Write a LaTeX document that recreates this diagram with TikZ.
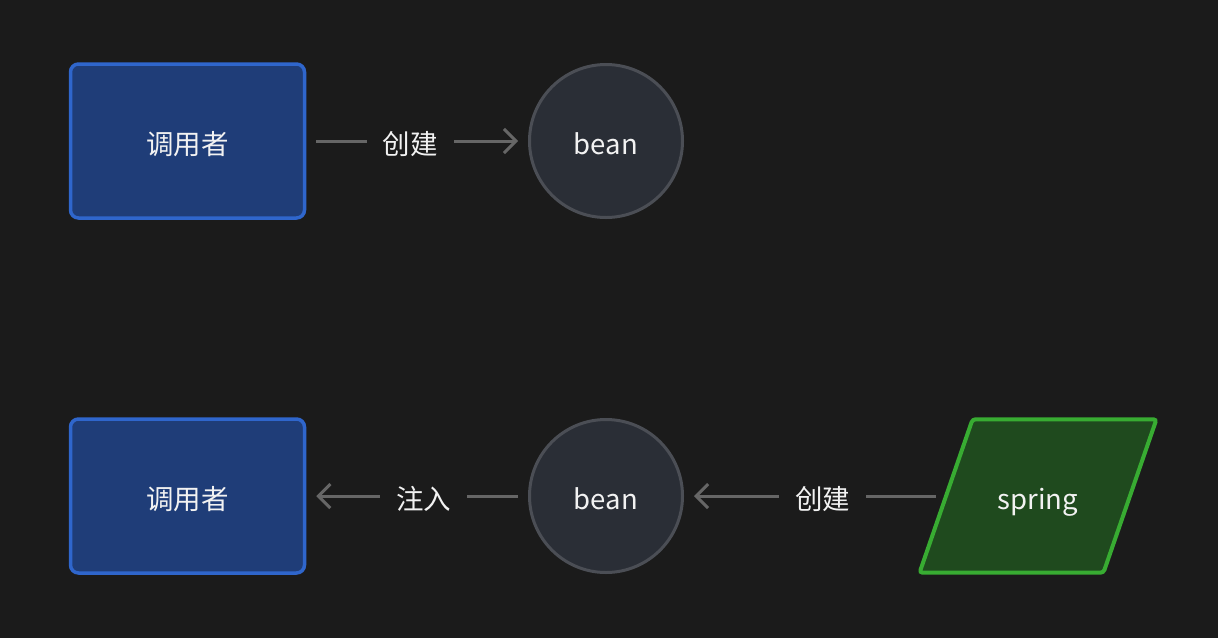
\documentclass[tikz,border=0pt]{standalone}
\usepackage{fontspec}
\setmainfont{Noto Sans CJK SC}
\usetikzlibrary{arrows.meta,backgrounds}
\definecolor{bgcol}{HTML}{1B1B1B}
\definecolor{callerfill}{HTML}{1F3D78}
\definecolor{callerline}{HTML}{2F66CC}
\definecolor{beanfill}{HTML}{2A2E36}
\definecolor{beanline}{HTML}{4B4E55}
\definecolor{springfill}{HTML}{1F4A1E}
\definecolor{springline}{HTML}{38AC32}
\definecolor{linkcol}{HTML}{666666}
\definecolor{txtcol}{HTML}{F2F2F2}
\begin{document}
\begin{tikzpicture}[x=1pt,y=-1pt,
    every node/.style={text=txtcol,font=\fontsize{27.5}{32}\selectfont},
    box/.style={text height=29pt,text depth=3pt},
    caller/.style={box,draw=callerline,fill=callerfill,line width=3.5pt,rounded corners=8pt,
      minimum width=234pt,minimum height=154pt},
    bean/.style={box,circle,draw=beanline,fill=beanfill,line width=3pt,minimum size=153pt},
    spring/.style={box,minimum width=183.5pt,minimum height=153pt},
    link/.style={draw=linkcol,line width=3pt,shorten <=10pt,shorten >=10pt,
      -{Straight Barb[length=12pt,width=24pt]}},
    tag/.style={box,fill=bgcol,inner xsep=16pt,inner ysep=0pt,pos=0.47}]
  \begin{scope}[on background layer]
    \fill[bgcol] (0,0) rectangle (1218,638);
  \end{scope}
  % direct creation
  \node[caller] (c1) at (187.5,141) {调用者};
  \node[bean] (b1) at (606,141) {bean};
  % injection by the container
  \node[caller] (c2) at (187.5,496) {调用者};
  \node[bean] (b2) at (606,496) {bean};
  \node[spring] (s) at (1038,496) {spring};
  \begin{scope}[on background layer]
    \draw[springline,fill=springfill,line width=4pt,rounded corners=3pt]
      ([xshift=26.5pt]s.north west) -- ([xshift=26.5pt]s.north east)
      -- ([xshift=-26.5pt]s.south east) -- ([xshift=-26.5pt]s.south west) -- cycle;
  \end{scope}
  \begin{scope}
    \draw[link] (c1) -- node[tag] {创建} (b1);
    \draw[link] (b2) -- node[tag] {注入} (c2);
    \draw[link] (s) -- node[tag] {创建} (b2);
  \end{scope}
\end{tikzpicture}
\end{document}
